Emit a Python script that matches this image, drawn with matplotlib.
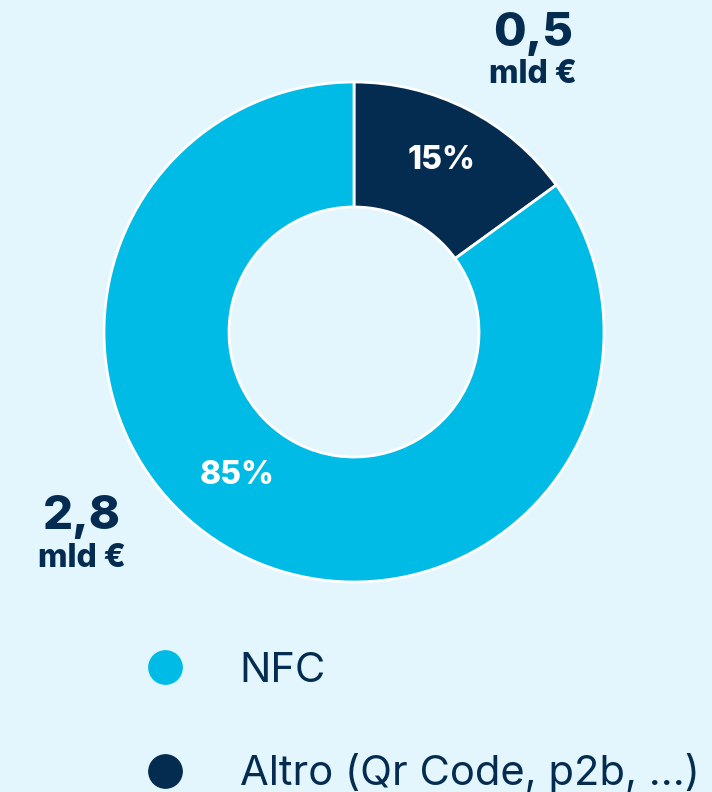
import matplotlib
matplotlib.use("Agg")
import matplotlib.pyplot as plt
from matplotlib.lines import Line2D
import numpy as np

# data
labels = ["NFC", "Altro (Qr Code, p2b, ...)"]
shares = [85, 15]
amounts = ["2,8", "0,5"]
unit = "mld €"

BG = "#e3f6fd"
CYAN = "#00bbe5"
NAVY = "#032c50"
colors = [CYAN, NAVY]

plt.rcParams["font.family"] = ["Inter", "DejaVu Sans"]

fig = plt.figure(figsize=(7.12, 7.92), dpi=100, facecolor=BG)
# square axes in pixels: 500x500 centered at (354, 332) from top
ax = fig.add_axes([104 / 712, 1 - 582 / 792, 500 / 712, 500 / 792])
ax.set_facecolor(BG)

# clockwise from 12 o'clock: Altro first, then NFC
ax.pie(shares[::-1], colors=colors[::-1], startangle=90, counterclock=False,
       radius=1.0, wedgeprops=dict(width=0.5, edgecolor="white", linewidth=2))
ax.set_xlim(-1, 1)
ax.set_ylim(-1, 1)
ax.set_aspect("equal")
ax.axis("off")

# percent labels inside the ring
total = sum(shares)
ang_alt = np.deg2rad(90 - 180 * shares[1] / total)
ax.text(0.77 * np.cos(ang_alt), 0.77 * np.sin(ang_alt),
        f"{shares[1]}%", color="white", fontsize=23, fontweight="heavy",
        ha="center", va="center")
ang_nfc = np.deg2rad(231)
ax.text(0.74 * np.cos(ang_nfc), 0.74 * np.sin(ang_nfc),
        f"{shares[0]}%", color="white", fontsize=23, fontweight="heavy",
        ha="center", va="center")

# amount labels outside
ax.text(0.716, 1.19, amounts[1], color=NAVY, fontsize=34, fontweight="heavy",
        ha="center", va="center")
ax.text(0.716, 1.03, unit, color=NAVY, fontsize=23, fontweight="heavy",
        ha="center", va="center")
ax.text(-1.088, -0.74, amounts[0], color=NAVY, fontsize=34, fontweight="heavy",
        ha="center", va="center")
ax.text(-1.088, -0.905, unit, color=NAVY, fontsize=23, fontweight="heavy",
        ha="center", va="center")

handles = [Line2D([], [], marker="o", linestyle="none", markersize=24,
                  markerfacecolor=c, markeredgecolor=c) for c in colors]
leg = fig.legend(handles, labels, loc="upper left", bbox_to_anchor=(144 / 712, 1 - 652 / 792),
                 frameon=False, fontsize=30, labelcolor=NAVY, handlelength=1.0,
                 handletextpad=1.3, labelspacing=1.52, borderpad=0, borderaxespad=0)

fig.savefig("out.png", dpi=100, facecolor=BG)
